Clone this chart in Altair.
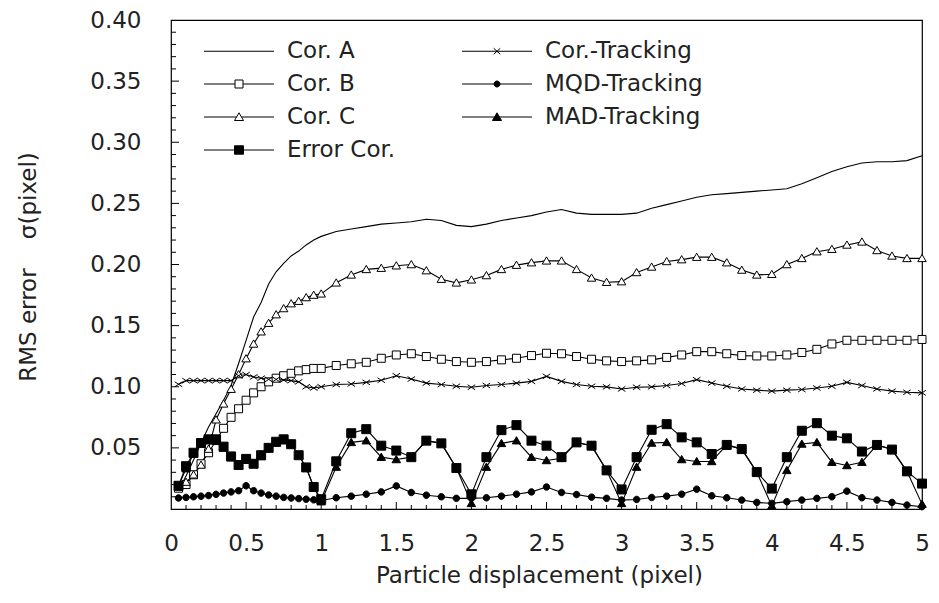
import altair as alt
import pandas as pd

# ---------------- data ----------------
X = [0.05, 0.10, 0.15, 0.20, 0.25, 0.30, 0.35, 0.40, 0.45, 0.50,
     0.55, 0.60, 0.65, 0.70, 0.75, 0.80, 0.85, 0.90, 0.95, 1.00,
     1.1, 1.2, 1.3, 1.4, 1.5, 1.6, 1.7, 1.8, 1.9, 2.0,
     2.1, 2.2, 2.3, 2.4, 2.5, 2.6, 2.7, 2.8, 2.9, 3.0,
     3.1, 3.2, 3.3, 3.4, 3.5, 3.6, 3.7, 3.8, 3.9, 4.0,
     4.1, 4.2, 4.3, 4.4, 4.5, 4.6, 4.7, 4.8, 4.9, 5.0]

COR_A = [0.015, 0.027, 0.040, 0.054, 0.067, 0.078, 0.089, 0.101, 0.119, 0.138,
         0.157, 0.169, 0.184, 0.194, 0.201, 0.207, 0.211, 0.216, 0.220, 0.223,
         0.227, 0.229, 0.231, 0.233, 0.234, 0.235, 0.237, 0.236, 0.232, 0.231,
         0.233, 0.236, 0.238, 0.240, 0.243, 0.245, 0.242, 0.241, 0.241, 0.241,
         0.242, 0.246, 0.249, 0.252, 0.255, 0.257, 0.258, 0.259, 0.260, 0.261,
         0.262, 0.266, 0.271, 0.276, 0.280, 0.283, 0.284, 0.284, 0.285, 0.289]

COR_B = [0.017, 0.020, 0.028, 0.037, 0.046, 0.056, 0.066, 0.075, 0.082, 0.089,
         0.095, 0.100, 0.104, 0.107, 0.109, 0.111, 0.113, 0.114, 0.115, 0.115,
         0.1174, 0.1188, 0.120, 0.1233, 0.126, 0.127, 0.1247, 0.1225, 0.1206, 0.120,
         0.1206, 0.122, 0.1233, 0.1255, 0.1274, 0.127, 0.1247, 0.1225, 0.1212, 0.1206,
         0.1212, 0.122, 0.124, 0.126, 0.1287, 0.1287, 0.127, 0.1255, 0.1252, 0.1252,
         0.126, 0.128, 0.1306, 0.135, 0.138, 0.138, 0.138, 0.138, 0.138, 0.1387]

COR_C = [0.018, 0.022, 0.028, 0.036, 0.049, 0.073, 0.086, 0.098, 0.110, 0.123,
         0.135, 0.145, 0.152, 0.159, 0.164, 0.168, 0.170, 0.173, 0.175, 0.176,
         0.185, 0.1915, 0.196, 0.197, 0.199, 0.200, 0.195, 0.188, 0.185, 0.1875,
         0.191, 0.196, 0.1995, 0.2015, 0.203, 0.203, 0.196, 0.189, 0.1855, 0.186,
         0.1935, 0.198, 0.2025, 0.204, 0.206, 0.206, 0.2015, 0.1955, 0.1915, 0.192,
         0.200, 0.205, 0.2105, 0.2125, 0.216, 0.2185, 0.2115, 0.207, 0.205, 0.205]

ERROR_COR = [0.019, 0.035, 0.046, 0.054, 0.057, 0.057, 0.051, 0.043, 0.036, 0.041,
             0.037, 0.044, 0.050, 0.055, 0.057, 0.053, 0.044, 0.034, 0.018, 0.008,
             0.039, 0.062, 0.0653, 0.0518, 0.0478, 0.0424, 0.0559, 0.0537, 0.0335, 0.012,
             0.0424, 0.0645, 0.0686, 0.0559, 0.0518, 0.0424, 0.0545, 0.0518, 0.0316, 0.016,
             0.0424, 0.0648, 0.0694, 0.0586, 0.0545, 0.045, 0.0524, 0.049, 0.0302, 0.0167,
             0.0424, 0.064, 0.0702, 0.060, 0.0578, 0.047, 0.0524, 0.0486, 0.0308, 0.0208]

COR_TRACKING = [0.102, 0.105, 0.105, 0.105, 0.105, 0.105, 0.105, 0.105, 0.109, 0.110,
                0.108, 0.107, 0.106, 0.106, 0.1055, 0.105, 0.104, 0.100, 0.099, 0.100,
                0.1018, 0.1023, 0.1036, 0.1053, 0.109, 0.1063, 0.103, 0.1018, 0.1004, 0.0996,
                0.101, 0.1018, 0.103, 0.1044, 0.1085, 0.1044, 0.1018, 0.1004, 0.0999, 0.0982,
                0.0996, 0.0999, 0.101, 0.1026, 0.1058, 0.103, 0.1004, 0.0982, 0.0972, 0.0964,
                0.0972, 0.0977, 0.099, 0.1004, 0.1036, 0.101, 0.0982, 0.0964, 0.0955, 0.095]

MQD_TRACKING = [0.009, 0.0095, 0.010, 0.0105, 0.011, 0.012, 0.013, 0.014, 0.015, 0.019,
                0.015, 0.013, 0.0115, 0.0105, 0.0095, 0.009, 0.0085, 0.008, 0.0075, 0.007,
                0.0092, 0.0105, 0.0121, 0.014, 0.0189, 0.0135, 0.0113, 0.010, 0.0087, 0.0087,
                0.0092, 0.0105, 0.0121, 0.014, 0.018, 0.0135, 0.0118, 0.0097, 0.0087, 0.0073,
                0.0078, 0.0094, 0.0105, 0.0121, 0.0162, 0.0108, 0.0092, 0.0073, 0.0054, 0.0046,
                0.006, 0.0073, 0.0087, 0.010, 0.0146, 0.0092, 0.0073, 0.0054, 0.0032, 0.0019]

MAD_TRACKING = [0.019, 0.033, 0.045, 0.053, 0.056, 0.056, 0.050, 0.042, 0.036, 0.040,
                0.037, 0.043, 0.050, 0.054, 0.056, 0.053, 0.044, 0.034, 0.018, 0.006,
                0.0343, 0.0545, 0.0559, 0.0424, 0.0405, 0.0424, 0.0559, 0.0537, 0.0335, 0.0046,
                0.0343, 0.0537, 0.0559, 0.0424, 0.0397, 0.0415, 0.0545, 0.0518, 0.0316, 0.0046,
                0.0343, 0.054, 0.0545, 0.0405, 0.0389, 0.0389, 0.0524, 0.049, 0.0302, 0.0025,
                0.0316, 0.0532, 0.0545, 0.0383, 0.0356, 0.0383, 0.0524, 0.0486, 0.0308, 0.004]

SERIES = {
    "Cor. A": COR_A,
    "Cor. B": COR_B,
    "Cor. C": COR_C,
    "Error Cor.": ERROR_COR,
    "Cor.-Tracking": COR_TRACKING,
    "MQD-Tracking": MQD_TRACKING,
    "MAD-Tracking": MAD_TRACKING,
}

X_TICK_LABELS = [0, 0.5, 1, 1.5, 2, 2.5, 3, 3.5, 4, 4.5, 5]
Y_TICK_LABELS = [0.05, 0.10, 0.15, 0.20, 0.25, 0.30, 0.35, 0.40]

# ---------------- tables ----------------
line_df = pd.DataFrame(
    [{"series": s, "x": x, "y": v} for s, vals in SERIES.items() for x, v in zip(X, vals)]
)
MARKER_ORDER = ["Cor. B", "Cor. C", "Cor.-Tracking", "MQD-Tracking", "MAD-Tracking", "Error Cor."]
point_df = pd.DataFrame(
    [{"series": s, "x": x, "y": v} for s in MARKER_ORDER for x, v in zip(X, SERIES[s])]
)
# legend is filled column by column: 4 entries left, 3 right
LEGEND_ORDER = ["Cor. A", "Cor. B", "Cor. C", "Error Cor.",
                "Cor.-Tracking", "MQD-Tracking", "MAD-Tracking"]
legend_df = pd.DataFrame({"series": LEGEND_ORDER})

xminor = pd.DataFrame({"x": [round(i * 0.1, 1) for i in range(1, 50) if i % 5]})
xmajor = pd.DataFrame({"x": [0.5, 1, 1.5, 2, 2.5, 3, 3.5, 4, 4.5]})
yminor = pd.DataFrame({"y": [round(i * 0.01, 2) for i in range(1, 40) if i % 5]})
ymajor = pd.DataFrame({"y": [0.05, 0.10, 0.15, 0.20, 0.25, 0.30, 0.35]})

# ---------------- styling ----------------
FONT = "DejaVu Sans"
FS = 23
INK = "#222222"
W, H = 751, 489

xs = alt.Scale(domain=[0, 5], nice=False, zero=False)
ys = alt.Scale(domain=[0, 0.4], nice=False, zero=False)

X_AXIS = alt.Axis(values=X_TICK_LABELS, format="~g", title="Particle displacement (pixel)",
                  domain=False, ticks=False, grid=False, labelPadding=23,
                  labelFlush=False, labelOverlap=False,
                  titleX=368, titleY=73, titleBaseline="alphabetic", titleAlign="center")
Y_AXIS = alt.Axis(values=Y_TICK_LABELS, format=".2f",
                  title="RMS error\u00a0\u00a0\u00a0\u00a0σ(pixel)",
                  domain=False, ticks=False, grid=False, labelPadding=30,
                  labelFlush=False, labelOverlap=False,
                  titleX=-136, titleY=246.5, titleAngle=270,
                  titleBaseline="alphabetic", titleAlign="center")

XE = alt.X("x:Q", scale=xs, axis=X_AXIS)
YE = alt.Y("y:Q", scale=ys, axis=Y_AXIS)

# marker shapes (unit square -1..1, mark size 100 -> 10 px box)
MARKER_PATHS = {
    "Cor. B": "M-0.8,-0.8H0.8V0.8H-0.8Z",
    "Cor. C": "M0,-0.8L0.85,0.65H-0.85Z",
    "Cor.-Tracking": "M-0.75,-0.5L0.75,0.5M-0.75,0.5L0.75,-0.5",
    "MQD-Tracking": "M0.65,0A0.65,0.65,0,1,1,-0.65,0A0.65,0.65,0,1,1,0.65,0Z",
    "MAD-Tracking": "M0,-0.8L0.85,0.65H-0.85Z",
    "Error Cor.": "M-0.9,-0.9H0.9V0.9H-0.9Z",
}
MARKER_FILL = {
    "Cor. B": "white", "Cor. C": "white", "Cor.-Tracking": "white",
    "MQD-Tracking": "black", "MAD-Tracking": "black", "Error Cor.": "black",
}
# legend symbols: size 400 -> unit = 10 px ; line from -1 to 6 (70 px), marker at 2.5
LEGEND_PATHS = {
    "Cor. A": "M-1,0H6",
    "Cor. B": "M-1,0H2.1M2.9,0H6M2.1,-0.4H2.9V0.4H2.1Z",
    "Cor. C": "M-1,0H2.25M2.75,0H6M2.5,-0.42L2.95,0.35H2.05Z",
    "Error Cor.": "M-1,0H6M2.05,-0.42H2.95V0.42H2.05Z",
    "Cor.-Tracking": "M-1,0H6M2.17,-0.3L2.83,0.3M2.17,0.3L2.83,-0.3",
    "MQD-Tracking": "M-1,0H6M2.8,0A0.3,0.3,0,1,1,2.2,0A0.3,0.3,0,1,1,2.8,0Z",
    "MAD-Tracking": "M-1,0H6M2.5,-0.42L2.95,0.35H2.05Z",
}
LEGEND_FILL = {
    "Cor. A": "white", "Cor. B": "white", "Cor. C": "white", "Error Cor.": "black",
    "Cor.-Tracking": "white", "MQD-Tracking": "black", "MAD-Tracking": "black",
}

lines = alt.Chart(line_df).mark_line(color="black", strokeWidth=1.1).encode(
    x=XE, y=YE, detail="series:N"
)

points = alt.Chart(point_df).mark_point(filled=True, stroke="black", strokeWidth=1,
                                        size=100, opacity=1).encode(
    x=XE, y=YE,
    shape=alt.Shape("series:N", legend=None,
                    scale=alt.Scale(domain=MARKER_ORDER,
                                    range=[MARKER_PATHS[s] for s in MARKER_ORDER])),
    fill=alt.Fill("series:N", legend=None,
                  scale=alt.Scale(domain=MARKER_ORDER,
                                  range=[MARKER_FILL[s] for s in MARKER_ORDER])),
)

LEG = alt.Legend(title=None, orient="none", legendX=31.5, legendY=19.5, columns=2,
                 symbolSize=400, labelOffset=61.5, rowPadding=9, columnPadding=64,
                 padding=0, labelFont=FONT, labelFontSize=FS, labelColor=INK,
                 labelLimit=0, symbolStrokeWidth=1, symbolStrokeColor="black",
                 symbolOpacity=1)

legend_layer = alt.Chart(legend_df).mark_point(filled=False, strokeWidth=1,
                                               size=400).encode(
    shape=alt.Shape("series:N", legend=LEG,
                    scale=alt.Scale(domain=LEGEND_ORDER,
                                    range=[LEGEND_PATHS[s] for s in LEGEND_ORDER])),
    fill=alt.Fill("series:N", legend=LEG,
                  scale=alt.Scale(domain=LEGEND_ORDER,
                                  range=[LEGEND_FILL[s] for s in LEGEND_ORDER])),
    stroke=alt.Stroke("series:N", legend=LEG,
                      scale=alt.Scale(domain=LEGEND_ORDER,
                                      range=["black"] * len(LEGEND_ORDER))),
    opacity=alt.value(0),
)

tick_style = dict(color="black", strokeWidth=1)
x_minor = alt.Chart(xminor).mark_rule(**tick_style).encode(
    x=XE, y=alt.value(H), y2=alt.value(H - 4))
x_major = alt.Chart(xmajor).mark_rule(**tick_style).encode(
    x=XE, y=alt.value(H), y2=alt.value(H - 7))
y_minor = alt.Chart(yminor).mark_rule(**tick_style).encode(
    y=YE, x=alt.value(0), x2=alt.value(5))
y_major = alt.Chart(ymajor).mark_rule(**tick_style).encode(
    y=YE, x=alt.value(0), x2=alt.value(8))

chart = alt.layer(
    lines, points, legend_layer, x_minor, x_major, y_minor, y_major
).resolve_scale(
    shape="independent", fill="independent", stroke="independent"
).properties(
    width=W, height=H,
    padding={"left": 163, "top": 12, "right": 9, "bottom": 79},
    autosize="none",
    background="white",
).configure_view(
    stroke="black", strokeWidth=1.2
).configure_axis(
    labelFont=FONT, labelFontSize=FS, labelColor=INK,
    titleFont=FONT, titleFontSize=FS, titleColor=INK, titleFontWeight="normal",
)

chart.save("out.html", embed_options={"renderer": "svg", "actions": False})
